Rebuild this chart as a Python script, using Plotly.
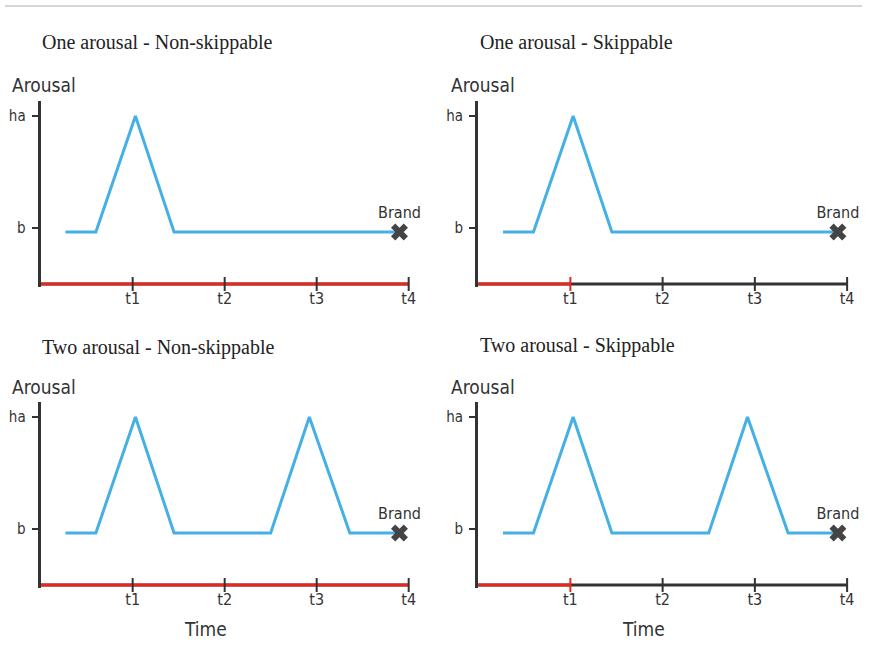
import plotly.graph_objects as go

W, H = 869, 655

# ---- data -----------------------------------------------------------------
time_ticks = [1, 2, 3, 4]
time_labels = ["t1", "t2", "t3", "t4"]
level_ticks = [1, 3]
level_labels = ["b", "ha"]

one_x = [0.27, 0.60, 1.03, 1.45, 3.90]
one_y = [0.93, 0.93, 3.00, 0.93, 0.93]

two_x = [0.27, 0.60, 1.03, 1.45, 2.50, 2.92, 3.36, 3.90]
two_y = [0.93, 0.93, 3.00, 0.93, 0.93, 3.00, 0.93, 0.93]

brand_x = 3.90
brand_y = 0.93

titles = ["One arousal - Non-skippable", "One arousal - Skippable",
          "Two arousal - Non-skippable", "Two arousal - Skippable"]
skip_at = [None, 1, None, 1]          # time at which the ad can be skipped
series_x = [one_x, one_x, two_x, two_x]
series_y = [one_y, one_y, two_y, two_y]

# ---- styling --------------------------------------------------------------
BLUE = "#45b0e6"
RED = "#e8261e"
DARK = "#333333"
SANS = "DejaVu Sans Condensed, DejaVu Sans, sans-serif"
SERIF = "Liberation Serif, Times New Roman, serif"

X_RANGE = [0, 4]
Y_RANGE = [-0.06, 3.27]
PX_PER_Y = 56.0

# pixel placement of each panel: (x of time 0, x of t4, y of level 0)
panel_px = [(41, 412, 284), (482, 854, 284), (41, 412, 585), (482, 854, 585)]
title_px = [(40, 42), (482, 42), (40, 347), (482, 346)]
arousal_px = [(10, 85), (453, 85), (10, 387), (453, 387)]
time_px = [(207, 629), (649, 629)]


def px_x(p):
    return p / W


def px_y(p):
    return 1 - p / H


fig = go.Figure()
layout = dict(
    width=W, height=H, margin=dict(l=0, r=0, t=0, b=0),
    paper_bgcolor="white", plot_bgcolor="rgba(0,0,0,0)",
    showlegend=False, annotations=[], shapes=[],
)

for i in range(4):
    n = "" if i == 0 else str(i + 1)
    xa, ya = "x" + n, "y" + n
    x0, x1, ybase = panel_px[i]
    y_bottom = ybase - Y_RANGE[0] * PX_PER_Y
    y_top = ybase - Y_RANGE[1] * PX_PER_Y

    layout["xaxis" + n] = dict(
        domain=[px_x(x0), px_x(x1)], range=X_RANGE, anchor=ya,
        showgrid=False, zeroline=False, showline=False,
        tickvals=time_ticks, ticktext=time_labels, ticks="",
        tickfont=dict(family=SANS, size=16, color=DARK),
        fixedrange=True,
    )
    layout["yaxis" + n] = dict(
        domain=[px_y(y_bottom), px_y(y_top)], range=Y_RANGE, anchor=xa,
        showgrid=False, zeroline=False, showline=True,
        linecolor=DARK, linewidth=3,
        tickvals=level_ticks, ticktext=level_labels,
        ticks="outside", ticklen=6, tickwidth=2, tickcolor=DARK,
        ticklabelstandoff=3,
        tickfont=dict(family=SANS, size=15, color=DARK),
        fixedrange=True,
    )

    # time axis: full span in dark, watched part in red
    watched = skip_at[i] if skip_at[i] is not None else X_RANGE[1]
    fig.add_trace(go.Scatter(
        x=X_RANGE, y=[0, 0], xaxis=xa, yaxis=ya, mode="lines",
        line=dict(color=DARK, width=3), hoverinfo="skip"))
    fig.add_trace(go.Scatter(
        x=[0, watched], y=[0, 0], xaxis=xa, yaxis=ya, mode="lines",
        line=dict(color=RED, width=3), hoverinfo="skip"))

    # tick marks crossing the time axis
    tick_colors = [RED if skip_at[i] is not None and t == skip_at[i] else DARK
                   for t in time_ticks]
    fig.add_trace(go.Scatter(
        x=time_ticks, y=[0] * len(time_ticks), xaxis=xa, yaxis=ya,
        mode="markers", cliponaxis=False, hoverinfo="skip",
        marker=dict(symbol="line-ns", size=10,
                    line=dict(width=2, color=tick_colors))))

    # arousal curve
    fig.add_trace(go.Scatter(
        x=series_x[i], y=series_y[i], xaxis=xa, yaxis=ya, mode="lines",
        line=dict(color=BLUE, width=3), hoverinfo="skip"))

    # brand moment
    fig.add_trace(go.Scatter(
        x=[brand_x], y=[brand_y], xaxis=xa, yaxis=ya,
        mode="markers+text", text=["Brand"], textposition="top center",
        textfont=dict(family=SANS, size=16, color=DARK),
        cliponaxis=False, hoverinfo="skip",
        marker=dict(symbol="x", size=15, color="#444444",
                    line=dict(width=0))))

    tx, ty = title_px[i]
    layout["annotations"].append(dict(
        text=titles[i], xref="paper", yref="paper", x=px_x(tx), y=px_y(ty),
        xanchor="left", yanchor="middle", showarrow=False,
        font=dict(family=SERIF, size=20, color="#222222")))
    ax_, ay_ = arousal_px[i]
    layout["annotations"].append(dict(
        text="Arousal", xref="paper", yref="paper", x=px_x(ax_), y=px_y(ay_),
        xanchor="left", yanchor="middle", showarrow=False,
        font=dict(family=SANS, size=19, color=DARK)))

for tx, ty in time_px:
    layout["annotations"].append(dict(
        text="Time", xref="paper", yref="paper", x=px_x(tx), y=px_y(ty),
        xanchor="center", yanchor="middle", showarrow=False,
        font=dict(family=SANS, size=19, color=DARK)))

# thin rule across the top of the page
layout["shapes"].append(dict(
    type="line", xref="paper", yref="paper", x0=px_x(5), x1=1,
    y0=px_y(6), y1=px_y(6), line=dict(color="#c8c8c8", width=1.5)))

fig.update_layout(**layout)
fig.write_html("out.html")
